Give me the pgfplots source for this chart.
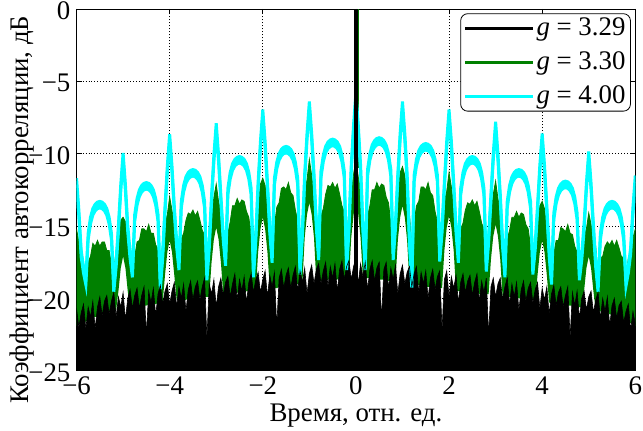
\documentclass[border=0pt]{standalone}
\usepackage{fontspec}
\setmainfont{Liberation Serif}
\usepackage{pgfplots}
\usepackage{pgfplotstable}
\pgfplotsset{compat=1.18}
\usepgfplotslibrary{fillbetween}
\definecolor{mgreen}{rgb}{0,0.5,0}
\definecolor{mcyan}{rgb}{0,1,1}

% t: time; cu/cl: cyan band (g=4.00); gu/gl: green band (g=3.30); b: black floor (g=3.29)
\pgfplotstableread{
t cu cl gu gl b
-6.00 -11.7 -12.15 -15.2 -21.9 -20.7
-5.95 -13.9 -14.35 -16.1 -21.8 -22.0
-5.90 -16.7 -17.15 -16.4 -21.7 -21.0
-5.85 -17.8 -18.25 -17.6 -21.7 -20.4
-5.80 -18.6 -19.05 -18.4 -21.6 -22.1
-5.75 -15.5 -15.95 -17.5 -21.5 -20.6
-5.70 -14.4 -14.85 -17.1 -21.4 -21.3
-5.65 -13.8 -14.25 -16.2 -21.3 -20.2
-5.60 -13.5 -13.95 -16.4 -21.3 -22.1
-5.55 -13.35 -13.8 -16.0 -21.2 -20.6
-5.50 -13.3 -13.75 -16.4 -21.1 -19.9
-5.45 -13.35 -13.8 -16.1 -21.1 -21.2
-5.40 -13.5 -13.95 -16.1 -21.0 -20.2
-5.35 -13.8 -14.25 -16.7 -21.0 -19.8
-5.30 -14.4 -14.85 -16.7 -20.9 -21.1
-5.25 -15.5 -15.95 -17.6 -20.9 -20.2
-5.20 -19.1 -19.55 -18.1 -20.9 -19.6
-5.15 -17.4 -17.85 -16.7 -20.8 -21.3
-5.10 -14.95 -15.4 -15.9 -19.5 -19.9
-5.05 -12.15 -12.6 -14.6 -17.9 -20.6
-5.00 -9.95 -10.4 -14.4 -17.1 -19.6
-4.95 -12.15 -12.6 -14.7 -17.9 -21.5
-4.90 -14.95 -15.4 -15.9 -19.5 -20.0
-4.85 -16.8 -17.25 -16.6 -20.6 -19.4
-4.80 -18.1 -18.55 -18.0 -20.6 -20.7
-4.75 -14.2 -14.65 -17.1 -20.6 -19.8
-4.70 -13.1 -13.55 -16.1 -20.6 -19.3
-4.65 -12.5 -12.95 -16.0 -20.5 -20.7
-4.60 -12.2 -12.65 -15.2 -20.5 -19.8
-4.55 -12.05 -12.5 -15.2 -20.5 -19.2
-4.50 -12.0 -12.45 -15.4 -20.5 -22.5
-4.45 -12.05 -12.5 -14.9 -20.4 -19.5
-4.40 -12.2 -12.65 -15.5 -20.4 -20.3
-4.35 -12.5 -12.95 -15.5 -20.4 -19.3
-4.30 -13.1 -13.55 -16.3 -20.4 -21.2
-4.25 -14.2 -14.65 -16.6 -20.3 -19.7
-4.20 -18.9 -19.35 -17.7 -20.3 -19.1
-4.15 -16.8 -17.25 -16.2 -20.3 -20.4
-4.10 -13.65 -14.1 -14.8 -18.4 -19.5
-4.05 -10.85 -11.3 -14.2 -16.8 -19.0
-4.00 -8.65 -9.1 -13.0 -16.0 -20.4
-3.95 -10.85 -11.3 -13.9 -16.8 -19.5
-3.90 -13.65 -14.1 -14.9 -18.4 -18.9
-3.85 -16.0 -16.45 -15.6 -20.1 -20.6
-3.80 -17.6 -18.05 -17.8 -20.1 -19.2
-3.75 -13.3 -13.75 -15.9 -20.1 -20.0
-3.70 -12.2 -12.65 -15.5 -20.1 -19.0
-3.65 -11.6 -12.05 -14.6 -20.1 -20.9
-3.60 -11.3 -11.75 -14.1 -20.0 -19.4
-3.55 -11.15 -11.6 -14.2 -20.0 -18.8
-3.50 -11.1 -11.55 -13.9 -20.0 -20.1
-3.45 -11.15 -11.6 -14.3 -20.0 -19.2
-3.40 -11.3 -11.75 -14.0 -20.0 -18.8
-3.35 -11.6 -12.05 -14.6 -19.9 -20.1
-3.30 -12.2 -12.65 -15.3 -19.9 -19.2
-3.25 -13.3 -13.75 -15.6 -19.9 -18.6
-3.20 -18.3 -18.75 -17.5 -19.9 -22.8
-3.15 -16.1 -16.55 -15.2 -19.9 -19.0
-3.10 -12.9 -13.35 -14.3 -17.5 -19.7
-3.05 -10.1 -10.55 -13.0 -15.9 -18.7
-3.00 -7.9 -8.35 -12.1 -15.1 -20.6
-2.95 -10.1 -10.55 -13.3 -15.9 -19.2
-2.90 -12.9 -13.35 -14.0 -17.5 -18.6
-2.85 -15.5 -15.95 -15.6 -19.7 -19.8
-2.80 -17.3 -17.75 -17.1 -19.7 -18.9
-2.75 -12.4 -12.85 -15.5 -19.7 -18.5
-2.70 -11.3 -11.75 -14.7 -19.7 -19.9
-2.65 -10.7 -11.15 -13.6 -19.7 -19.0
-2.60 -10.4 -10.85 -13.6 -19.6 -18.3
-2.55 -10.25 -10.7 -13.1 -19.6 -20.1
-2.50 -10.2 -10.65 -13.5 -19.6 -18.7
-2.45 -10.25 -10.7 -13.2 -19.6 -19.5
-2.40 -10.4 -10.85 -13.3 -19.6 -18.5
-2.35 -10.7 -11.15 -14.0 -19.5 -20.3
-2.30 -11.3 -11.75 -14.4 -19.5 -18.9
-2.25 -12.4 -12.85 -15.6 -19.5 -18.3
-2.20 -18.1 -18.55 -16.8 -19.5 -19.6
-2.15 -15.6 -16.05 -14.8 -19.5 -18.7
-2.10 -11.95 -12.4 -13.6 -16.8 -18.2
-2.05 -9.15 -9.6 -12.1 -15.2 -19.6
-2.00 -6.95 -7.4 -11.7 -14.4 -18.7
-1.95 -9.15 -9.6 -12.2 -15.2 -18.1
-1.90 -11.95 -12.4 -13.7 -16.8 -19.9
-1.85 -15.0 -15.45 -14.7 -19.3 -18.4
-1.80 -17.1 -17.55 -16.6 -19.3 -19.2
-1.75 -11.7 -12.15 -15.0 -19.3 -18.2
-1.70 -10.6 -11.05 -13.7 -19.3 -22.0
-1.65 -10.0 -10.45 -13.4 -19.2 -18.6
-1.60 -9.7 -10.15 -12.4 -19.2 -18.0
-1.55 -9.55 -10.0 -12.3 -19.2 -19.3
-1.50 -9.5 -9.95 -12.5 -19.2 -18.4
-1.45 -9.55 -10.0 -12.0 -19.1 -17.9
-1.40 -9.7 -10.15 -12.7 -19.1 -19.3
-1.35 -10.0 -10.45 -12.9 -19.1 -18.4
-1.30 -10.6 -11.05 -13.9 -19.1 -17.8
-1.25 -11.7 -12.15 -14.6 -19.0 -19.5
-1.20 -17.9 -18.35 -16.3 -19.0 -18.1
-1.15 -15.3 -15.75 -14.3 -19.0 -18.9
-1.10 -11.4 -11.85 -12.6 -15.8 -17.9
-1.05 -8.6 -9.05 -11.8 -14.2 -19.7
-1.00 -6.4 -6.85 -10.4 -13.4 -18.3
-0.95 -8.6 -9.05 -11.5 -14.2 -17.7
-0.90 -11.4 -11.85 -12.8 -15.8 -19.0
-0.85 -14.7 -15.15 -13.8 -18.8 -18.0
-0.80 -16.9 -17.35 -16.5 -18.8 -17.6
-0.75 -11.2 -11.65 -14.3 -18.8 -19.0
-0.70 -10.1 -10.55 -13.8 -18.8 -18.1
-0.65 -9.5 -9.95 -12.8 -18.8 -17.5
-0.60 -9.2 -9.65 -12.2 -18.7 -19.2
-0.55 -9.05 -9.5 -12.3 -18.7 -17.8
-0.50 -9.0 -9.45 -12.0 -18.7 -18.6
-0.45 -9.05 -9.5 -12.4 -18.7 -17.6
-0.40 -9.2 -9.65 -12.1 -18.7 -19.5
-0.35 -9.5 -9.95 -12.8 -18.6 -18.0
-0.30 -10.1 -10.55 -13.6 -18.6 -17.4
-0.25 -11.2 -11.65 -14.0 -18.6 -18.7
-0.20 -17.6 -18.05 -16.2 -18.6 -17.8
-0.15 -14.9 -15.35 -13.8 -18.6 -17.4
-0.10 -10.8 -11.25 -12.8 -15.8 -18.7
-0.05 -8.0 -8.45 -11.4 -14.2 -17.8
0.00 -5.8 -6.25 -10.4 -13.4 -17.2
0.05 -8.0 -8.45 -11.6 -14.2 -19.0
0.10 -10.8 -11.25 -12.4 -15.8 -17.6
0.15 -14.9 -15.35 -14.2 -18.6 -18.5
0.20 -17.6 -18.05 -15.9 -18.6 -17.5
0.25 -11.1 -11.55 -14.3 -18.6 -19.4
0.30 -10.0 -10.45 -13.6 -18.6 -18.0
0.35 -9.4 -9.85 -12.5 -18.6 -17.4
0.40 -9.1 -9.55 -12.5 -18.7 -18.8
0.45 -8.95 -9.4 -12.0 -18.7 -17.9
0.50 -8.9 -9.35 -12.4 -18.7 -17.5
0.55 -8.95 -9.4 -12.1 -18.7 -21.5
0.60 -9.1 -9.55 -12.2 -18.7 -18.0
0.65 -9.4 -9.85 -13.0 -18.8 -17.5
0.70 -10.0 -10.45 -13.4 -18.8 -19.3
0.75 -11.1 -11.55 -14.8 -18.8 -17.9
0.80 -16.9 -17.35 -16.2 -18.8 -18.7
0.85 -14.7 -15.15 -14.2 -18.8 -17.7
0.90 -11.4 -11.85 -12.9 -16.0 -19.7
0.95 -8.6 -9.05 -11.3 -14.4 -18.3
1.00 -6.4 -6.85 -10.9 -13.6 -17.7
1.05 -8.6 -9.05 -11.5 -14.4 -19.0
1.10 -11.4 -11.85 -13.0 -16.0 -18.2
1.15 -15.8 -16.25 -14.2 -19.0 -17.8
1.20 -18.8 -19.25 -16.3 -19.0 -19.2
1.25 -11.5 -11.95 -14.8 -19.0 -18.3
1.30 -10.4 -10.85 -13.6 -19.1 -17.8
1.35 -9.8 -10.25 -13.3 -19.1 -19.6
1.40 -9.5 -9.95 -12.3 -19.1 -18.2
1.45 -9.35 -9.8 -12.3 -19.1 -19.0
1.50 -9.3 -9.75 -12.5 -19.2 -18.1
1.55 -9.35 -9.8 -12.0 -19.2 -20.0
1.60 -9.5 -9.95 -12.7 -19.2 -18.6
1.65 -9.8 -10.25 -12.9 -19.2 -18.0
1.70 -10.4 -10.85 -14.0 -19.3 -19.4
1.75 -11.5 -11.95 -14.7 -19.3 -18.5
1.80 -17.0 -17.45 -16.6 -19.3 -18.1
1.85 -15.0 -15.45 -14.9 -19.3 -22.2
1.90 -11.95 -12.4 -13.3 -16.7 -18.7
1.95 -9.15 -9.6 -12.6 -15.1 -18.1
2.00 -6.95 -7.4 -11.3 -14.3 -19.9
2.05 -9.15 -9.6 -12.3 -15.1 -18.5
2.10 -11.95 -12.4 -13.6 -16.7 -19.3
2.15 -15.0 -15.45 -14.5 -19.5 -18.4
2.20 -17.1 -17.55 -17.1 -19.5 -20.3
2.25 -12.4 -12.85 -15.2 -19.5 -18.9
2.30 -11.3 -11.75 -14.8 -19.5 -18.3
2.35 -10.7 -11.15 -13.9 -19.5 -19.6
2.40 -10.4 -10.85 -13.4 -19.6 -18.8
2.45 -10.25 -10.7 -13.5 -19.6 -18.4
2.50 -10.2 -10.65 -13.2 -19.6 -19.8
2.55 -10.25 -10.7 -13.6 -19.6 -18.9
2.60 -10.4 -10.85 -13.3 -19.6 -18.3
2.65 -10.7 -11.15 -14.0 -19.7 -20.2
2.70 -11.3 -11.75 -14.8 -19.7 -18.8
2.75 -12.4 -12.85 -15.2 -19.7 -19.6
2.80 -17.7 -18.15 -17.4 -19.7 -18.6
2.85 -15.7 -16.15 -15.1 -19.7 -22.6
2.90 -12.8 -13.25 -14.2 -17.3 -19.2
2.95 -10.0 -10.45 -12.8 -15.7 -18.6
3.00 -7.8 -8.25 -11.9 -14.9 -19.9
3.05 -10.0 -10.45 -13.1 -15.7 -19.0
3.10 -12.8 -13.25 -13.9 -17.3 -18.6
3.15 -16.0 -16.45 -15.6 -19.9 -20.1
3.20 -18.1 -18.55 -17.2 -19.9 -19.2
3.25 -13.3 -13.75 -15.9 -19.9 -18.6
3.30 -12.2 -12.65 -15.3 -19.9 -20.4
3.35 -11.6 -12.05 -14.4 -19.9 -19.0
3.40 -11.3 -11.75 -14.4 -20.0 -19.9
3.45 -11.15 -11.6 -14.0 -20.0 -18.9
3.50 -11.1 -11.55 -14.4 -20.0 -20.8
3.55 -11.15 -11.6 -14.1 -20.0 -19.4
3.60 -11.3 -11.75 -14.2 -20.0 -18.8
3.65 -11.6 -12.05 -14.9 -20.1 -20.2
3.70 -12.2 -12.65 -15.2 -20.1 -19.3
3.75 -13.3 -13.75 -16.4 -20.1 -18.9
3.80 -17.9 -18.35 -17.5 -20.1 -20.3
3.85 -16.2 -16.65 -15.9 -20.1 -19.4
3.90 -13.6 -14.05 -14.9 -18.4 -18.9
3.95 -10.8 -11.25 -13.6 -16.8 -20.7
4.00 -8.6 -9.05 -13.3 -16.0 -19.3
4.05 -10.8 -11.25 -13.8 -16.8 -20.1
4.10 -13.6 -14.05 -15.1 -18.4 -19.2
4.15 -16.6 -17.05 -16.0 -20.3 -21.1
4.20 -18.6 -19.05 -17.7 -20.3 -19.7
4.25 -14.1 -14.55 -16.9 -20.3 -19.1
4.30 -13.0 -13.45 -16.0 -20.4 -20.5
4.35 -12.4 -12.85 -16.0 -20.4 -19.6
4.40 -12.1 -12.55 -15.1 -20.4 -19.2
4.45 -11.95 -12.4 -15.2 -20.4 -20.6
4.50 -11.9 -12.35 -15.4 -20.5 -19.8
4.55 -11.95 -12.4 -14.9 -20.5 -19.2
4.60 -12.1 -12.55 -15.5 -20.5 -22.7
4.65 -12.4 -12.85 -15.6 -20.5 -19.6
4.70 -13.0 -13.45 -16.4 -20.6 -20.5
4.75 -14.1 -14.55 -16.8 -20.6 -19.5
4.80 -18.3 -18.75 -18.0 -20.6 -21.4
4.85 -16.9 -17.35 -16.8 -20.6 -20.0
4.90 -14.85 -15.3 -15.6 -19.5 -19.5
4.95 -12.05 -12.5 -15.2 -17.9 -20.8
5.00 -9.85 -10.3 -14.1 -17.1 -19.9
5.05 -12.05 -12.5 -14.9 -17.9 -19.5
5.10 -14.85 -15.3 -15.9 -19.5 -21.0
5.15 -17.4 -17.85 -16.4 -20.8 -20.1
5.20 -19.1 -19.55 -18.4 -20.9 -19.6
5.25 -15.5 -15.95 -17.2 -20.9 -21.4
5.30 -14.4 -14.85 -17.1 -20.9 -20.0
5.35 -13.8 -14.25 -16.4 -21.0 -20.9
5.40 -13.5 -13.95 -16.1 -21.0 -19.9
5.45 -13.35 -13.8 -16.3 -21.1 -21.9
5.50 -13.3 -13.75 -16.0 -21.1 -20.5
5.55 -13.35 -13.8 -16.4 -21.2 -20.0
5.60 -13.5 -13.95 -16.0 -21.3 -21.4
5.65 -13.8 -14.25 -16.5 -21.3 -20.5
5.70 -14.4 -14.85 -17.1 -21.4 -20.2
5.75 -15.5 -15.95 -17.2 -21.5 -21.7
5.80 -18.7 -19.15 -18.7 -21.6 -20.9
5.85 -17.8 -18.25 -17.2 -21.7 -20.4
5.90 -16.5 -16.95 -16.8 -21.7 -22.2
5.95 -13.7 -14.15 -15.8 -21.8 -20.9
6.00 -11.5 -11.95 -15.2 -21.9 -21.8
}\acf

\begin{document}
\fontsize{27}{32}\selectfont
\begin{tikzpicture}
\begin{axis}[
  at={(0,0)}, anchor=south west,
  scale only axis, width=560bp, height=362.5bp,
  xmin=-6, xmax=6, ymin=-25, ymax=0,
  xtick={-6,-4,...,6}, ytick={-25,-20,...,0},
  xticklabels={−6,−4,−2,0,2,4,6},
  yticklabels={−25,−20,−15,−10,−5,0},
  xticklabel style={inner sep=1bp, yshift=-5bp},
  yticklabel style={inner sep=1bp, xshift=-5bp, yshift=-2bp},
  grid=major,
  major grid style={black, dash pattern=on 1bp off 2bp, line width=0.8bp},
  axis line style={line width=0.8bp},
  tick align=inside, major tick length=5bp,
  tick style={black, line width=0.8bp},
  xlabel={Время, отн. ед.},
  ylabel={Коэффициент автокорреляции, дБ},
  xlabel style={inner sep=3bp, yshift=-5bp},
  ylabel style={inner sep=2bp, at={(ticklabel cs:0.445)}},
  ylabel shift=-9bp,
  legend style={at={(0.992,0.988)}, anchor=north east, draw=black,
    line width=0.8bp, rounded corners=7bp, inner xsep=3bp, inner ysep=2bp,
    row sep=8bp},
  legend cell align=left,
  legend image code/.code={\draw[#1] (0bp,0bp) -- (68bp,0bp);},
]
\addlegendimage{black, line width=3bp}
\addlegendentry{\textit{g} = 3.29}
\addlegendimage{mgreen, line width=3bp}
\addlegendentry{\textit{g} = 3.30}
\addlegendimage{mcyan, line width=3bp}
\addlegendentry{\textit{g} = 4.00}

% g = 3.30
\addplot[name path=gu, draw=mgreen, line width=0.8bp, forget plot] table[x=t, y=gu] {\acf};
\addplot[name path=gl, draw=none, forget plot] table[x=t, y=gl] {\acf};
\addplot[mgreen, forget plot] fill between[of=gu and gl];
\addplot[mgreen, line width=1.5bp, forget plot] coordinates {(0.04,-11) (0.04,0)};

% g = 4.00
\addplot[name path=cu, draw=mcyan, line width=3bp, forget plot] table[x=t, y=cu] {\acf};
\addplot[name path=cl, draw=mcyan, line width=3bp, forget plot] table[x=t, y=cl] {\acf};
\addplot[mcyan, forget plot] fill between[of=cu and cl];

% g = 3.29
\addplot[name path=bb, draw=black, line width=0.6bp, forget plot] table[x=t, y=b] {\acf};
\addplot[name path=bf, draw=none, forget plot] coordinates {(-6,-25) (6,-25)};
\addplot[black, forget plot] fill between[of=bb and bf];
\addplot[black, line width=3.5bp, forget plot] coordinates {(0,-25) (0,0)};
\end{axis}
\path (-76.7bp,-58.5bp) rectangle (566.3bp,371.5bp);
\end{tikzpicture}
\end{document}
